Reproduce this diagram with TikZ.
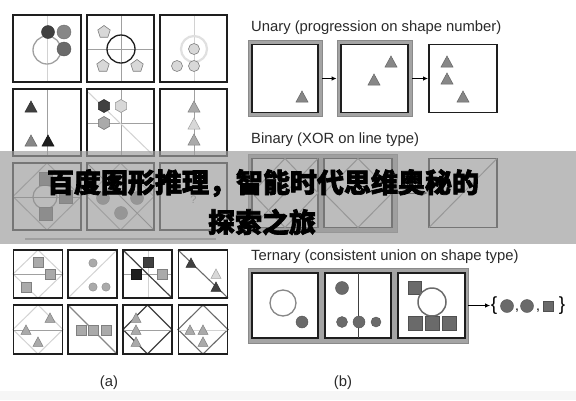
\documentclass[tikz,border=0pt]{standalone}
\usepackage{fontspec}
\setmainfont{Liberation Sans}
\newfontfamily\cjk{Noto Sans CJK SC}[BoldFeatures={FakeBold=2.5}]
\usetikzlibrary{arrows.meta}
\definecolor{frame}{HTML}{1E1E1E}
\definecolor{gline}{HTML}{A0A0A0}
\definecolor{lline}{HTML}{D2D2D2}
\definecolor{tg}{HTML}{878787}
\definecolor{dk}{HTML}{404040}
\definecolor{md}{HTML}{6A6A6A}
\definecolor{lg}{HTML}{AAAAAA}
\definecolor{lt}{HTML}{D8D8D8}
\definecolor{bandg}{HTML}{A4A4A4}
\definecolor{bandd}{HTML}{8A8A8A}
\definecolor{banner}{HTML}{9E9E9E}
\definecolor{txt}{HTML}{2A2A2A}
\tikzset{
  pics/tri/.style={code={\filldraw[fill=#1,draw=#1!75!black,line width=.5pt] (-6,5) -- (6,5) -- (0,-6) -- cycle;}},
  pics/tri/.default=tg,
  pics/trs/.style={code={\filldraw[fill=#1,draw=#1!75!black,line width=.5pt] (-5,4.3) -- (5,4.3) -- (0,-5) -- cycle;}},
  pics/trs/.default=lg,
  pics/pent/.style={code={\filldraw[fill=lt,draw=gray,line width=.6pt] (-90:6.5) -- (-18:6.5) -- (54:6.5) -- (126:6.5) -- (198:6.5) -- cycle;}},
  pics/hex/.style={code={\filldraw[fill=#1,draw=#1!70!black,line width=.6pt] (-90:6.5) -- (-30:6.5) -- (30:6.5) -- (90:6.5) -- (150:6.5) -- (210:6.5) -- cycle;}},
  pics/sqs/.style={code={\filldraw[fill=#1,draw=#1!75!black,line width=.5pt] (-5,-5) rectangle (5,5);}},
  pics/sqm/.style={code={\filldraw[fill=#1,draw=#1!75!black,line width=.5pt] (-6.3,-6.3) rectangle (6.3,6.3);}},
  pics/sqb/.style={code={\filldraw[fill=#1,draw=#1!75!black,line width=.5pt] (-7,-7) rectangle (7,7);}},
  cell/.style={draw=frame, line width=1.9pt, inner sep=0pt, minimum width=67pt, minimum height=67pt},
  scell/.style={draw=frame, line width=1.9pt, inner sep=0pt, minimum width=49pt, minimum height=48.5pt},
  box/.style={draw=frame, line width=1.9pt, fill=white, inner sep=0pt, minimum width=66pt, minimum height=68pt},
  band/.style={fill=bandg, draw=bandd, line width=0.8pt, inner sep=0pt},
  lab/.style={font=\fontsize{14.8}{16}\selectfont, text=txt, inner sep=0pt},
  arr/.style={-{Latex[length=5pt,width=4.5pt]}, line width=1pt, black},
  thin/.style={line width=1pt},
}
\begin{document}
\begin{tikzpicture}[x=1pt,y=-1pt]
\useasboundingbox (0,0) rectangle (576,400);
\fill[white] (0,0) rectangle (576,400);
\fill[gray!7] (0,391) rectangle (576,400);

% ---------- panel (a): 3x3 matrix ----------
% row 1
\draw[lline,thin] (47,15) -- (47,82);
\draw[gline,line width=1.3pt] (47,50) circle (14);
\filldraw[fill=dk,draw=dk!80!black] (48,32) circle (6.5);
\filldraw[fill=tg,draw=tg!80!black] (64,32) circle (7);
\filldraw[fill=md,draw=md!80!black] (64,49) circle (7);

\draw[gline,thin] (121,15) -- (121,82) (87,49) -- (154,49);
\draw[frame,line width=1.3pt] (121,49) circle (14);
\pic at (104,32) {pent};
\pic at (103,66) {pent};
\pic at (137,66) {pent};

\draw[lline,thin] (194,15) -- (194,82);
\draw[lt!80!white,line width=2.2pt] (194,49) circle (13);
\filldraw[fill=lt,draw=gray,line width=.6pt] (194,49) circle (5.5);
\filldraw[fill=lt,draw=gray,line width=.6pt] (177,66) circle (5.5);
\filldraw[fill=lt,draw=gray,line width=.6pt] (194,66) circle (5.5);

% row 2
\draw[gline,thin] (47,89) -- (47,156);
\pic at (31,107) {tri=dk};
\pic at (31,141) {tri=tg};
\pic at (48,141) {tri=frame};

\draw[gline,thin] (121,89) -- (121,156) (87,123) -- (154,123);
\draw[lline,thin] (88,92) -- (154,156);
\pic at (104,106) {hex=dk};
\pic at (121,106) {hex=lt};
\pic at (104,123) {hex=lg};

\draw[gline,thin] (194,89) -- (194,156);
\pic at (194,107) {tri=lg};
\pic at (194,124) {tri=lt};
\pic at (194,140) {tri=lg};

% row 3
\draw[gline,thin] (47,163) -- (81,196.5) -- (47,230) -- (13,196.5) -- cycle;
\draw[gray,thin] (13,197) -- (81,197);
\draw[gray,line width=1.2pt] (45,197) circle (12);
\pic at (46,179) {sqm=md};
\pic at (66,197) {sqm=md};
\pic at (46,214) {sqm=md};

\draw[gline,thin] (120.5,163) -- (154,196.5) -- (120.5,230) -- (87,196.5) -- cycle;
\draw[gray,thin] (87,163) -- (154,230);
\filldraw[fill=tg,draw=tg!80!black] (103,198) circle (6.5);
\filldraw[fill=tg,draw=tg!80!black] (137,198) circle (6.5);
\filldraw[fill=tg,draw=tg!80!black] (121,213) circle (6.5);

\node[text=gray,font=\fontsize{11}{11}\selectfont] (qm) at (193.5,200) {?};

% frames of the matrix
\node[cell,minimum width=68pt] (m11) at (47,48.5) {};
\node[cell] (m12) at (120.5,48.5) {};
\node[cell] (m13) at (193.5,48.5) {};
\node[cell,minimum width=68pt] (m21) at (47,122.5) {};
\node[cell] (m22) at (120.5,122.5) {};
\node[cell] (m23) at (193.5,122.5) {};
\node[cell,minimum width=68pt] (m31) at (47,196.5) {};
\node[cell] (m32) at (120.5,196.5) {};
\node[cell] (m33) at (193.5,196.5) {};

\coordinate (sepL) at (25,239);
\coordinate (sepR) at (216,239);
\draw[gline,line width=1.2pt] (sepL) -- (sepR);

% ---------- panel (a): answer cells ----------
% row A
\draw[lline,thin] (38,250) -- (63,274) -- (38,298) -- (13,274) -- cycle;
\draw[gline,thin] (13,274) -- (63,274);
\pic at (38,262) {sqs=lg};
\pic at (50,274) {sqs=lg};
\pic at (26,287) {sqs=lg};

\draw[lline,thin] (68,298) -- (117,250);
\filldraw[fill=lg,draw=lg!80!black] (93,263) circle (4.2);
\filldraw[fill=lg,draw=lg!80!black] (93,287) circle (4.2);
\filldraw[fill=lg,draw=lg!80!black] (106,287) circle (4.2);

\draw[lline,thin] (148,250) -- (148,298);
\draw[gline,thin] (123,274) -- (172,274);
\draw[dk,line width=1.2pt] (123,250) -- (172,298);
\pic at (148,262) {sqs=dk};
\pic at (136,274) {sqs=frame};
\pic at (162,274) {sqs=lg};

\draw[md,line width=1.1pt] (178,250) -- (228,298);
\pic at (191,263) {trs=dk};
\pic at (216,274) {trs=lt};
\pic at (216,287) {trs=dk};

% row B
\draw[lline,thin] (38,305) -- (63,329.5) -- (38,354) -- (13,329.5) -- cycle;
\draw[gline,thin] (13,330) -- (63,330);
\pic at (50,318) {trs=lg};
\pic at (26,330) {trs=lg};
\pic at (38,342) {trs=lg};

\draw[tg,line width=1.1pt] (68,305) -- (117,354);
\pic at (81,330) {sqs=lg};
\pic at (93,330) {sqs=lg};
\pic at (106,330) {sqs=lg};

\draw[dk,line width=1.1pt] (147.5,305) -- (172,329.5) -- (147.5,354) -- (123,329.5) -- cycle;
\draw[gline,thin] (123,330) -- (172,330);
\pic at (136,318) {trs=lg};
\pic at (136,330) {trs=lg};
\pic at (136,342) {trs=lg};

\draw[md,line width=1.1pt] (203,305) -- (228,329.5) -- (203,354) -- (178,329.5) -- cycle;
\draw[lline,thin] (178,330) -- (228,330);
\pic at (190,330) {trs=lg};
\pic at (203,330) {trs=lg};
\pic at (203,342) {trs=lg};

\node[scell] (a11) at (38,274) {};
\node[scell] (a12) at (92.5,274) {};
\node[scell] (a13) at (147.5,274) {};
\node[scell] (a14) at (203,274) {};
\node[scell] (a21) at (38,329.5) {};
\node[scell] (a22) at (92.5,329.5) {};
\node[scell] (a23) at (147.5,329.5) {};
\node[scell] (a24) at (203,329.5) {};

\node[lab] (capa) at (109,383) {(a)};

% ---------- panel (b) ----------
\node[lab,anchor=west] (ul) at (251,28) {Unary (progression on shape number)};
\node[band,minimum width=74pt,minimum height=76pt] (u1o) at (285,78.5) {};
\node[band,minimum width=75pt,minimum height=76pt] (u2o) at (374.5,78.5) {};
\node[box] (u1) at (285,78.5) {};
\node[box,minimum width=67pt] (u2) at (374.5,78.5) {};
\node[box,minimum width=68pt] (u3) at (463,78.5) {};
\draw[arr] (u1o) -- (u2o);
\draw[arr] (u2o) -- (u3);
\pic at (302,97) {tri};
\pic at (374,80) {tri};
\pic at (391,62) {tri};
\pic at (447,62) {tri};
\pic at (447,79) {tri};
\pic at (463,97) {tri};

\node[lab,anchor=west] (bl) at (251,140) {Binary (XOR on line type)};
\node[band,minimum width=149pt,minimum height=78pt] (bo) at (322.5,193) {};
\node[box,minimum height=69pt] (b1) at (285,193) {};
\node[box,minimum width=68pt,minimum height=69pt] (b2) at (358,193) {};
\node[box,minimum width=68pt,minimum height=69pt] (b3) at (463,193) {};
\draw[arr] (bo) -- (b3);
\draw[tg,thin] (285,158.5) -- (318,193) -- (285,227.5) -- (252,193) -- cycle;
\draw[tg,thin] (252,227.5) -- (318,158.5);
\draw[tg,thin] (358,158.5) -- (392,193) -- (358,227.5) -- (324,193) -- cycle;
\draw[tg,thin] (429,227.5) -- (497,158.5);

\node[lab,anchor=west] (tl) at (251,257) {Ternary (consistent union on shape type)};
\node[band,minimum width=220pt,minimum height=75pt] (to) at (358,305.5) {};
\node[box,minimum height=65pt] (t1) at (285,305.5) {};
\node[box,minimum height=65pt] (t2) at (358,305.5) {};
\node[box,minimum width=67pt,minimum height=65pt] (t3) at (431.5,305.5) {};
\draw[tg,line width=1.3pt] (283,303) circle (13);
\filldraw[fill=md,draw=md!80!black] (302,322) circle (6);
\draw[dk,line width=.8pt] (358,273) -- (358,338);
\filldraw[fill=md,draw=md!80!black] (342,288) circle (6.5);
\filldraw[fill=md,draw=md!80!black] (342,322) circle (5.5);
\filldraw[fill=md,draw=md!80!black] (359,322) circle (6);
\filldraw[fill=md,draw=md!80!black] (376,322) circle (5);
\pic at (415,288) {sqm=md};
\pic at (415,323) {sqb=md};
\pic at (432,323) {sqb=md};
\pic at (449,323) {sqb=md};
\filldraw[fill=white,draw=md,line width=1.5pt] (432,302) circle (14);

\node[font=\fontsize{19}{19}\selectfont,inner sep=0.5pt] (lb) at (494,305.5) {\{};
\node[font=\fontsize{19}{19}\selectfont,inner sep=0.5pt] (rb) at (562,305.5) {\}};
\draw[arr] (to) -- (lb);
\filldraw[fill=md,draw=md!80!black] (507,306) circle (6.5);
\filldraw[fill=md,draw=md!80!black] (527,306) circle (6.5);
\pic at (548,306) {sqs=md};
\node[font=\fontsize{14}{14}\selectfont,inner sep=0pt] (c1) at (517,311) {,};
\node[font=\fontsize{14}{14}\selectfont,inner sep=0pt] (c2) at (538,311) {,};

\node[lab] (capb) at (343,383) {(b)};

% ---------- banner ----------
\fill[banner,opacity=0.69] (0,151) rectangle (576,244);
\node[font=\cjk\bfseries\fontsize{27}{27}\selectfont,inner sep=0pt] (h1) at (263,183) {百度图形推理，智能时代思维奥秘的};
\node[font=\cjk\bfseries\fontsize{27}{27}\selectfont,inner sep=0pt] (h2) at (262,222) {探索之旅};
\end{tikzpicture}
\end{document}
